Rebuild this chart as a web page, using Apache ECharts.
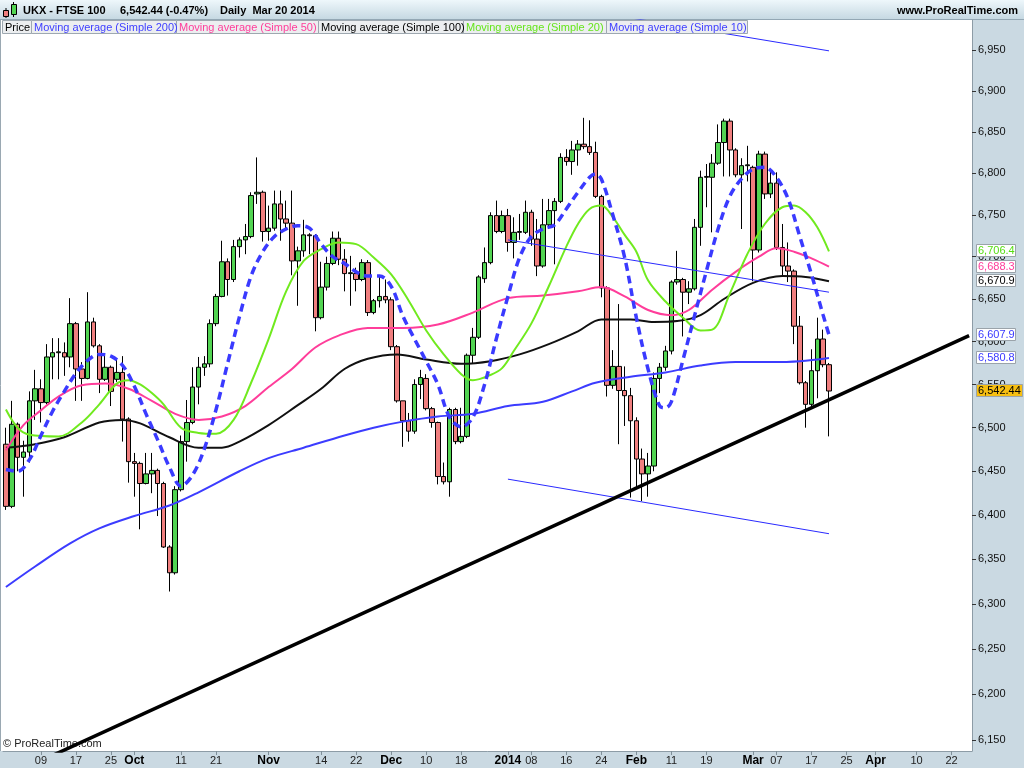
<!DOCTYPE html>
<html><head><meta charset="utf-8">
<script src="https://cdn.jsdelivr.net/npm/echarts@6/dist/echarts.min.js"></script>
<style>html,body{margin:0;padding:0;background:#fff}#c{width:1024px;height:768px}</style>
</head><body><div id="c"></div>
<script>
// ---------- DATA ----------
const startDate = '2013-08-30';
const endDate = '2014-04-25';
const holidays = ['2013-12-25','2013-12-26','2014-01-01','2014-04-18','2014-04-21'];

// daily candles from 2013-08-30 onwards: [open, close, low, high]
const ohlc = [
[6481,6410,6406,6500],[6410,6504,6408,6531],[6504,6466,6450,6506],[6466,6472,6421,6485],[6472,6531,6460,6542],
[6531,6545,6509,6567],[6545,6529,6506,6556],[6529,6582,6527,6597],[6582,6587,6556,6604],[6587,6588,6556,6604],
[6587,6582,6560,6599],[6582,6621,6570,6651],[6621,6568,6531,6623],[6568,6557,6531,6576],[6557,6623,6556,6658],
[6623,6595,6593,6628],[6595,6556,6540,6597],[6556,6570,6554,6585],[6570,6542,6525,6572],[6556,6564,6553,6579],
[6564,6510,6484,6583],[6510,6461,6437,6512],[6461,6459,6421,6471],[6459,6436,6384,6461],[6436,6447,6435,6471],
[6447,6451,6425,6471],[6451,6436,6399,6453],[6436,6364,6363,6438],[6364,6335,6314,6366],[6335,6429,6333,6433],
[6429,6484,6427,6491],[6484,6506,6461,6532],[6506,6547,6504,6570],[6547,6570,6527,6582],[6570,6574,6560,6583],
[6574,6621,6570,6626],[6621,6653,6618,6656],[6653,6694,6652,6719],[6694,6673,6654,6698],[6673,6712,6670,6720],
[6712,6720,6699,6723],[6720,6724,6703,6739],[6724,6773,6722,6777],[6775,6777,6763,6819],[6777,6730,6718,6779],
[6730,6734,6719,6761],[6734,6763,6731,6779],[6763,6745,6719,6779],[6745,6740,6733,6767],[6740,6695,6678,6779],
[6695,6707,6642,6712],[6707,6726,6700,6744],[6726,6725,6703,6728],[6725,6628,6612,6727],[6628,6664,6626,6694],
[6664,6692,6660,6700],[6692,6722,6690,6730],[6722,6697,6690,6730],[6697,6680,6659,6709],[6680,6681,6642,6701],
[6680,6673,6659,6687],[6673,6693,6671,6697],[6693,6634,6630,6696],[6634,6648,6632,6650],[6648,6653,6640,6677],
[6653,6649,6645,6673],[6649,6594,6590,6652],[6594,6531,6529,6596],[6531,6508,6478,6531],[6508,6496,6484,6517],
[6496,6550,6493,6556],[6550,6558,6533,6567],[6557,6522,6520,6562],[6522,6506,6500,6524],[6506,6444,6435,6507],
[6444,6438,6435,6460],[6438,6521,6421,6523],[6521,6484,6481,6523],[6484,6490,6482,6523],[6490,6584,6488,6586],
[6584,6605,6575,6616],[6605,6676,6603,6678],[6674,6693,6669,6711],[6693,6749,6691,6753],[6749,6730,6728,6767],
[6730,6749,6728,6755],[6749,6717,6706,6757],[6717,6729,6698,6747],[6729,6730,6720,6751],[6729,6753,6727,6767],
[6753,6721,6713,6756],[6721,6689,6677,6745],[6689,6738,6687,6769],[6738,6755,6735,6769],[6755,6766,6691,6770],
[6766,6819,6764,6824],[6819,6814,6809,6829],[6814,6828,6798,6839],[6828,6835,6809,6840],[6835,6832,6829,6867],
[6832,6825,6822,6864],[6825,6772,6770,6838],[6772,6663,6652,6774],[6663,6549,6536,6665],[6549,6571,6545,6590],
[6571,6543,6481,6644],[6543,6537,6502,6571],[6537,6508,6420,6546],[6508,6464,6430,6512],[6464,6447,6416,6476],
[6447,6456,6421,6471],[6456,6557,6450,6564],[6557,6570,6540,6575],[6570,6589,6566,6595],[6589,6670,6585,6672],
[6670,6673,6667,6707],[6673,6658,6606,6675],[6658,6662,6644,6671],[6662,6735,6660,6745],[6735,6795,6713,6803],
[6795,6796,6759,6811],[6795,6812,6729,6823],[6812,6837,6810,6859],[6837,6863,6796,6866],[6863,6828,6796,6866],
[6828,6798,6795,6830],[6798,6809,6733,6818],[6809,6810,6790,6833],[6807,6708,6671,6809],[6708,6823,6705,6827],
[6823,6775,6769,6826],[6775,6788,6770,6805],[6788,6711,6708,6801],[6711,6689,6677,6739],[6689,6683,6670,6717],
[6683,6618,6597,6685],[6618,6552,6550,6630],[6552,6527,6500,6554],[6527,6566,6525,6591],[6566,6603,6534,6628],
[6603,6573,6570,6614],[6573,6542.44,6490,6575]
];

// moving averages sampled as [trading-day index, value]
const ma200 = [[0,6319],[5,6342],[11,6368],[16,6385],[22,6399],[28,6411],[33,6426],[40,6450],[45,6465],[51,6477],[58,6491],[63,6500],[68,6507],[74,6513],[80,6516],[86,6525],[92,6530],[97,6542],[101,6552],[107,6559],[113,6564],[119,6572],[125,6576],[131,6576],[136,6577],[141,6580.8]];
const ma50 = [[0,6474],[3,6503],[6,6520],[9,6536],[13,6549],[17,6551],[21,6545],[25,6531],[29,6516],[33,6509],[37,6513],[41,6525],[45,6547],[49,6568],[53,6593],[57,6607],[62,6616],[68,6616],[74,6620],[80,6634],[86,6651],[92,6654],[98,6659],[102,6664],[106,6653],[110,6637],[114,6631],[117,6637],[121,6661],[125,6682],[129,6700],[132,6710],[135,6706],[138,6698],[141,6688.3]];
const ma100 = [[0,6477],[5,6481],[10,6489],[16,6506],[20,6509],[23,6505],[28,6489],[33,6477],[37,6477],[40,6484],[45,6503],[50,6526],[54,6545],[58,6568],[62,6580],[67,6585],[72,6579],[78,6574],[83,6577],[88,6585],[93,6597],[98,6612],[102,6626],[107,6626],[111,6623],[115,6624],[119,6631],[123,6650],[128,6669],[133,6677],[137,6676],[141,6670.9]];
const ma20 = [[0,6521],[2,6500],[4,6492],[9,6490],[13,6506],[16,6527],[19,6551],[21,6555],[23,6550],[25,6540],[27,6527],[30,6500],[33,6494],[36,6493],[39,6509],[42,6552],[45,6603],[48,6659],[51,6695],[54,6709],[57,6717],[60,6715],[63,6699],[66,6679],[69,6648],[72,6613],[75,6585],[78,6562],[80,6555],[83,6561],[85,6569],[87,6589],[90,6621],[93,6665],[96,6712],[98,6739],[100,6757],[102,6761],[104,6747],[106,6726],[108,6706],[110,6672],[113,6647],[116,6628],[119,6613],[121,6614],[124,6656],[127,6703],[130,6739],[133,6759],[135,6761],[137,6753],[139,6735],[141,6706.4]];
const ma10 = [[0,6452],[2,6450],[4,6463],[6,6491],[8,6519],[10,6542],[12,6563],[14,6578],[16,6585],[18,6583],[20,6572],[22,6548],[24,6516],[26,6486],[28,6455],[30,6433],[32,6446],[34,6476],[36,6521],[38,6575],[40,6629],[42,6677],[44,6706],[46,6724],[48,6733],[50,6737],[52,6734],[54,6715],[56,6700],[58,6692],[60,6682],[62,6677],[64,6677],[66,6665],[68,6630],[70,6603],[72,6577],[74,6550],[76,6512],[78,6501],[80,6512],[82,6550],[84,6603],[86,6653],[88,6699],[90,6724],[92,6733],[94,6738],[96,6757],[98,6777],[100,6795],[101,6799],[102,6793],[104,6749],[106,6699],[108,6628],[110,6568],[112,6525],[113,6523],[114,6530],[116,6579],[118,6631],[120,6683],[122,6733],[124,6772],[126,6793],[128,6805],[130,6807],[132,6795],[134,6769],[136,6724],[138,6679],[140,6631],[141,6607.9]];

// drawn trend lines: [trading-day index, price]
const trendSupport = [[0,6110],[165,6607]];
const channelUpper = [[86,7015],[141,6949]];
const channelMid = [[86,6720],[141,6658]];
const channelLow = [[86,6441],[141,6379]];

const yTicks = [6150,6200,6250,6300,6350,6400,6450,6500,6550,6600,6650,6700,6750,6800,6850,6900,6950];
const tickDates = ['2013-09-09','2013-09-17','2013-09-25','2013-10-01','2013-10-11','2013-10-21','2013-11-01','2013-11-14','2013-11-22','2013-12-02','2013-12-10','2013-12-18','2014-01-02','2014-01-08','2014-01-16','2014-01-24','2014-02-03','2014-02-11','2014-02-19','2014-03-03','2014-03-07','2014-03-17','2014-03-25','2014-04-01','2014-04-10','2014-04-22'];
const tickTexts = ['09','17','25','Oct','11','21','Nov','14','22','Dec','10','18','2014','08','16','24','Feb','11','19','Mar','07','17','25','Apr','10','22'];

const lastValues = [6706.4, 6688.3, 6670.9, 6607.9, 6580.8, 6542.44];

// ---------- BUILD ----------
function buildDates(){
  const out=[]; let t=Date.parse(startDate+'T00:00:00Z'); const end=Date.parse(endDate+'T00:00:00Z');
  while(t<=end){const d=new Date(t); const dow=d.getUTCDay(); const s=d.toISOString().slice(0,10);
    if(dow!==0&&dow!==6&&holidays.indexOf(s)<0) out.push(s); t+=86400000;}
  return out;
}
const dates = buildDates();
const L = Math.log;
const tickMap = {}; tickDates.forEach((d,i)=>tickMap[d]=tickTexts[i]);
const fmt = v => { const s=String(v); return s.length>3 ? s.slice(0,s.length-3)+','+s.slice(-3) : s; };
const FONT = '"Liberation Sans", Arial, Helvetica, sans-serif';
const logPairs = a => a.map(p=>[p[0], L(p[1])]);

const C = {green:'#66e51c', pink:'#ff3d9a', blue:'#4040ff', black:'#000'};

function lineSeries(data, color, width, type, z){
  return {type:'line', data:logPairs(data), showSymbol:false, symbol:'none', smooth:0.35,
    lineStyle:{color, width, type: type||'solid', cap:'butt'}, z: z||6, silent:true, animation:false};
}
function straight(data, color, width, z){
  return {type:'line', data:logPairs(data), showSymbol:false, symbol:'none', smooth:false,
    lineStyle:{color, width}, z: z||7, silent:true, animation:false};
}

const baseGraphics = [
  {type:'rect', shape:{x:0,y:20,width:972,height:731}, style:{fill:'#fff'}, z:-10, silent:true},
  {type:'rect', shape:{x:0,y:0,width:1024,height:20}, z:-9, silent:true,
    style:{fill:new echarts.graphic.LinearGradient(0,0,0,1,[{offset:0,color:'#eef7fb'},{offset:1,color:'#c4d7e1'}])}},
  {type:'line', shape:{x1:0,y1:19.5,x2:1024,y2:19.5}, style:{stroke:'#93a7b4',lineWidth:1}, z:-8, silent:true},
  {type:'line', shape:{x1:0.5,y1:20,x2:0.5,y2:751}, style:{stroke:'#9aa8b2',lineWidth:1}, z:-8, silent:true},
  // header icon
  {type:'line', shape:{x1:6,y1:8,x2:6,y2:18}, style:{stroke:'#000',lineWidth:1}, z:50},
  {type:'rect', shape:{x:3.5,y:10.5,width:5,height:6}, style:{fill:'#ef7f7f',stroke:'#000',lineWidth:1}, z:51},
  {type:'line', shape:{x1:13.5,y1:2,x2:13.5,y2:17}, style:{stroke:'#000',lineWidth:1}, z:50},
  {type:'rect', shape:{x:11.5,y:4.5,width:5,height:10}, style:{fill:'#52d452',stroke:'#000',lineWidth:1}, z:51},
  {type:'text', x:23, y:10.5, style:{text:'UKX - FTSE 100', fill:'#000', font:'bold 11px '+FONT, verticalAlign:'middle'}, z:50},
  {type:'text', x:120, y:10.5, style:{text:'6,542.44 (-0.47%)', fill:'#000', font:'bold 11px '+FONT, verticalAlign:'middle'}, z:50},
  {type:'text', x:220, y:10.5, style:{text:'Daily  Mar 20 2014', fill:'#000', font:'bold 11px '+FONT, verticalAlign:'middle'}, z:50},
  {type:'text', x:1018, y:10.5, style:{text:'www.ProRealTime.com', fill:'#000', font:'bold 11px '+FONT, verticalAlign:'middle', align:'right'}, z:50},
  {type:'text', x:3, y:744, style:{text:'\u00a9 ProRealTime.com', fill:'#222', font:'11px '+FONT, verticalAlign:'middle'}, z:-5}
];
const legendItems = [
  {t:'Price', c:'#000', x:2, w:29},
  {t:'Moving average (Simple 200)', c:C.blue, x:31, w:145},
  {t:'Moving average (Simple 50)', c:C.pink, x:176, w:142},
  {t:'Moving average (Simple 100)', c:'#000', x:318, w:145},
  {t:'Moving average (Simple 20)', c:C.green, x:463, w:143},
  {t:'Moving average (Simple 10)', c:C.blue, x:606, w:141}
];
legendItems.forEach(it=>{
  baseGraphics.push({type:'rect', shape:{x:it.x+0.5,y:20.5,width:it.w,height:13}, style:{fill:'#eceef0',stroke:'#9ea8b0',lineWidth:1}, z:60});
  baseGraphics.push({type:'text', x:it.x+3, y:27.5, style:{text:it.t, fill:it.c, font:'11px '+FONT, verticalAlign:'middle'}, z:61});
});

const chart = echarts.init(document.getElementById('c'), null, {renderer:'canvas'});
const option = {
  animation:false,
  backgroundColor:'#cad9e2',
  grid:{left:3, right:52, top:20, bottom:17, containLabel:false, outerBoundsMode:'none'},
  xAxis:{type:'category', data:dates, boundaryGap:true,
    axisLine:{show:true, lineStyle:{color:'#8d9ca6'}},
    axisTick:{show:true, alignWithLabel:true, length:4, interval:(i,v)=>tickMap[v]!==undefined, lineStyle:{color:'#7f8f99'}},
    axisLabel:{show:true, interval:(i,v)=>tickMap[v]!==undefined, margin:4, hideOverlap:false,
      formatter:v=>{const t=tickMap[v]; if(t===undefined) return ''; return /^\d\d$/.test(t)?'{n|'+t+'}':'{b|'+t+'}';},
      rich:{n:{fontSize:11, color:'#222', fontFamily:FONT}, b:{fontSize:12, fontWeight:'bold', color:'#000', fontFamily:FONT}}},
    splitLine:{show:false}},
  yAxis:{type:'value', position:'right', min:L(6138), max:L(6987.1),
    axisLine:{show:true, lineStyle:{color:'#8d9ca6'}},
    axisTick:{show:true, length:4, customValues:yTicks.map(L), lineStyle:{color:'#333'}},
    axisLabel:{show:true, customValues:yTicks.map(L), margin:6, fontSize:11, color:'#111', fontFamily:FONT,
      formatter:v=>fmt(Math.round(Math.exp(v)/50)*50)},
    splitLine:{show:false}},
  graphic:{elements:baseGraphics},
  series:[
    {type:'candlestick', data:ohlc.map(r=>r.map(L)), barWidth:5, z:5, silent:true,
      itemStyle:{color:'#52d452', color0:'#f07f7f', borderColor:'#000', borderColor0:'#000', borderWidth:1}},
    lineSeries(ma200, '#3c3cff', 2),
    lineSeries(ma100, '#111', 2),
    lineSeries(ma50, '#ff3d9a', 2),
    lineSeries(ma20, '#70ea1e', 2),
    lineSeries(ma10, '#3a3aff', 3.5, [8,5]),
    straight(trendSupport, '#000', 3.5, 8),
    straight(channelUpper, '#2a2aff', 1),
    straight(channelMid, '#2a2aff', 1),
    straight(channelLow, '#2a2aff', 1)
  ]
};
chart.setOption(option);

// price boxes on the right axis, positioned through the y scale
const boxStyles = [
  {c:'#55dd11', bg:'#fff', w:39},
  {c:'#ff3d9a', bg:'#fff', w:39},
  {c:'#000', bg:'#fff', w:39},
  {c:'#3a3aff', bg:'#fff', w:39},
  {c:'#3a3aff', bg:'#fff', w:39},
  {c:'#000', bg:'#f7bf12', w:46}
];
const boxes = [];
lastValues.forEach((v,i)=>{
  const y = chart.convertToPixel({yAxisIndex:0}, L(v));
  const s = boxStyles[i];
  const dec = String(v).split('.')[1];
  const txt = v.toFixed(dec ? dec.length : 0);
  const parts = txt.split('.');
  const label = fmt(parts[0]) + (parts[1] ? '.'+parts[1] : '');
  boxes.push({type:'rect', shape:{x:976.5, y:Math.round(y)-6.5, width:s.w, height:12}, style:{fill:s.bg, stroke:'#9aa3aa', lineWidth:1}, z:80+i*2});
  boxes.push({type:'text', x:978, y:Math.round(y), style:{text:label, fill:s.c, font:'11px '+FONT, verticalAlign:'middle'}, z:81+i*2});
});
chart.setOption({graphic:{elements:baseGraphics.concat(boxes)}});
</script>
</body></html>
